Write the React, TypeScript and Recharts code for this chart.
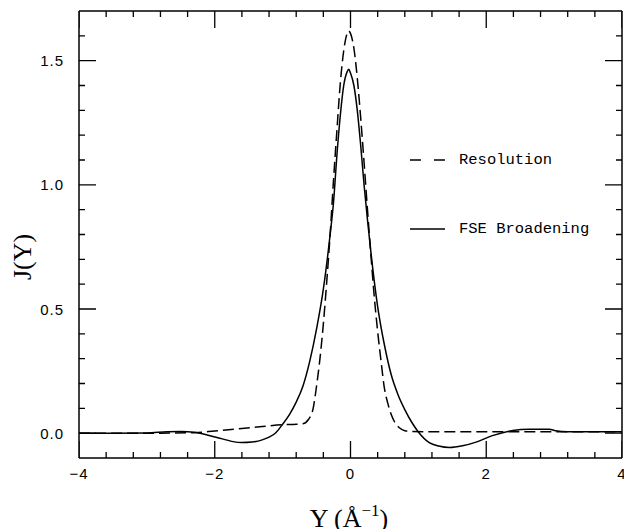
import React from 'react';
import { LineChart, Line, XAxis, YAxis, Legend, Customized, ReferenceLine } from 'recharts';

// Resolution function (dashed)
const resolutionY = [-4, -3, -2.3, -2, -1.6, -1.3, -1, -0.8, -0.7, -0.62, -0.55, -0.5, -0.45, -0.4, -0.35, -0.3, -0.25, -0.2, -0.15, -0.1, -0.05, -0.03, 0, 0.05, 0.1, 0.15, 0.2, 0.25, 0.3, 0.35, 0.4, 0.45, 0.5, 0.55, 0.6, 0.65, 0.72, 0.8, 0.9, 1.2, 2, 3, 4];
const resolutionJ = [0, 0, 0.002, 0.009, 0.019, 0.027, 0.034, 0.036, 0.038, 0.055, 0.1, 0.19, 0.3, 0.44, 0.61, 0.8, 1.02, 1.22, 1.41, 1.54, 1.61, 1.62, 1.61, 1.55, 1.43, 1.27, 1.09, 0.9, 0.72, 0.55, 0.41, 0.29, 0.18, 0.12, 0.075, 0.045, 0.022, 0.01, 0.007, 0.006, 0.006, 0.006, 0.006];

// Final-state-effect broadening (solid)
const fseY = [-4, -3.5, -3, -2.7, -2.5, -2.3, -2.1, -1.9, -1.75, -1.6, -1.45, -1.3, -1.2, -1.1, -1, -0.9, -0.8, -0.7, -0.6, -0.5, -0.4, -0.3, -0.25, -0.2, -0.15, -0.1, -0.05, -0.025, 0, 0.05, 0.1, 0.15, 0.2, 0.25, 0.3, 0.4, 0.5, 0.6, 0.7, 0.8, 0.9, 1, 1.16, 1.3, 1.46, 1.65, 1.85, 2.09, 2.39, 2.63, 2.93, 3.02, 3.2, 4];
const fseJ = [0, 0, 0.001, 0.006, 0.007, 0.004, -0.008, -0.022, -0.033, -0.038, -0.036, -0.027, -0.016, 0.002, 0.036, 0.075, 0.125, 0.19, 0.29, 0.42, 0.58, 0.8, 0.93, 1.12, 1.28, 1.4, 1.455, 1.465, 1.45, 1.4, 1.3, 1.16, 1.0, 0.86, 0.73, 0.51, 0.355, 0.235, 0.155, 0.095, 0.045, 0.005, -0.038, -0.052, -0.058, -0.051, -0.036, -0.01, 0.011, 0.016, 0.016, 0.01, 0.006, 0.006];

const xTicks = [-4, -3.6, -3.2, -2.8, -2.4, -2, -1.6, -1.2, -0.8, -0.4, 0, 0.4, 0.8, 1.2, 1.6, 2, 2.4, 2.8, 3.2, 3.6, 4];
const yTicks = [0, 0.1, 0.2, 0.3, 0.4, 0.5, 0.6, 0.7, 0.8, 0.9, 1, 1.1, 1.2, 1.3, 1.4, 1.5, 1.6];

const seriesNames = ['Resolution', 'FSE Broadening'];
const seriesDash = ['11 5', undefined];

const resolutionData = resolutionY.map((Y, i) => ({ Y, J: resolutionJ[i] }));
const fseData = fseY.map((Y, i) => ({ Y, J: fseJ[i] }));

const X_DOMAIN: [number, number] = [-4, 4];
const Y_DOMAIN: [number, number] = [-0.1, 1.7];

// chart geometry (the chart is pinned to the page's top-left corner)
const CHART_W = 624;
const CHART_H = 529;
const MARGIN = { top: 11, right: 2, bottom: 0, left: 0 };
const Y_AXIS_W = 79;
const X_AXIS_H = 71;
const PLOT_W = CHART_W - MARGIN.left - MARGIN.right - Y_AXIS_W;
const PLOT_H = CHART_H - MARGIN.top - MARGIN.bottom - X_AXIS_H;

// inward tick lengths in pixels, converted to data units
const MAJOR = 17;
const MINOR = 6;
const xPerPx = (X_DOMAIN[1] - X_DOMAIN[0]) / PLOT_W;
const yPerPx = (Y_DOMAIN[1] - Y_DOMAIN[0]) / PLOT_H;

const isMajor = (v: number, step: number) => Math.abs(v / step - Math.round(v / step)) < 1e-6;

// Each side of the frame gets one polyline of short tick segments, broken by null gaps.
type Pt = { Y: number; J: number | null };
const xTickSegments = (edge: number, dir: number): Pt[] =>
  xTicks.flatMap((v) => {
    const len = (isMajor(v, 2) ? MAJOR : MINOR) * yPerPx * dir;
    return [{ Y: v, J: edge }, { Y: v, J: edge + len }, { Y: v, J: null }];
  });
const yTickSegments = (edge: number, dir: number): Pt[] =>
  yTicks.flatMap((v) => {
    const len = (isMajor(v, 0.5) ? MAJOR : MINOR) * xPerPx * dir;
    return [{ Y: edge, J: v }, { Y: edge + len, J: v }, { Y: edge + len, J: null }];
  });
const tickSides = [
  xTickSegments(Y_DOMAIN[0], 1),
  xTickSegments(Y_DOMAIN[1], -1),
  yTickSegments(X_DOMAIN[0], 1),
  yTickSegments(X_DOMAIN[1], -1),
];

const TICK_FONT = '"Liberation Sans", Arial, sans-serif';
const fmtX = (v: number) => (v < 0 ? '\u2212' + Math.abs(v) : String(v));

const BottomLabel = (props: any) => {
  const { x, y, payload } = props;
  if (!isMajor(payload.value, 2)) return <g />;
  return (
    <text x={x} y={y + 15} textAnchor="middle" dominantBaseline="central" fontFamily={TICK_FONT} fontSize={15} letterSpacing={1} fill="#000">
      {fmtX(payload.value)}
    </text>
  );
};

const LeftLabel = (props: any) => {
  const { x, y, payload } = props;
  if (!isMajor(payload.value, 0.5)) return <g />;
  return (
    <text x={x - 15} y={y} textAnchor="end" dominantBaseline="central" fontFamily={TICK_FONT} fontSize={15} letterSpacing={1} fill="#000">
      {payload.value.toFixed(1)}
    </text>
  );
};

const AxisTitles = () => (
  <g fontFamily='"Liberation Serif", "Times New Roman", serif' fill="#000">
    <text x={22} y={257} transform="rotate(-90 22 257)" textAnchor="middle" dominantBaseline="central" fontSize={26}>
      J(Y)
    </text>
    <text x={349} y={527} textAnchor="middle" fontSize={26}>
      {'Y  (\u00C5'}
      <tspan dy={-11} fontSize={17}>{'\u22121'}</tspan>
      <tspan dy={11}>)</tspan>
    </text>
  </g>
);

const LegendBox = () => (
  <svg width={215} height={120} style={{ display: 'block' }}>
    {seriesNames.map((name, i) => {
      const cy = i === 0 ? 22 : 91;
      return (
        <g key={name}>
          <line x1={2} x2={37} y1={cy} y2={cy} stroke="#000" strokeWidth={1.4} strokeDasharray={seriesDash[i] ? '11 13' : undefined} />
          <text x={51} y={cy} dominantBaseline="central" fontFamily='"Liberation Mono", "Courier New", monospace' fontSize={15.5} fill="#000">
            {name}
          </text>
        </g>
      );
    })}
  </svg>
);

export default function App() {
  return (
    <div style={{ position: 'absolute', left: 0, top: 0, width: CHART_W, height: CHART_H, overflow: 'hidden', background: '#fff' }}>
      <LineChart width={CHART_W} height={CHART_H} margin={MARGIN}>
        <XAxis
          xAxisId="b"
          dataKey="Y"
          type="number"
          domain={X_DOMAIN}
          ticks={xTicks}
          interval={0}
          allowDataOverflow
          height={X_AXIS_H}
          tickSize={0}
          tickMargin={0}
          tickLine={false}
          tick={<BottomLabel />}
          axisLine={{ stroke: '#000', strokeWidth: 1.5 }}
        />
        <YAxis
          yAxisId="l"
          type="number"
          domain={Y_DOMAIN}
          ticks={yTicks}
          interval={0}
          allowDataOverflow
          width={Y_AXIS_W}
          tickSize={0}
          tickMargin={0}
          tickLine={false}
          tick={<LeftLabel />}
          axisLine={{ stroke: '#000', strokeWidth: 1.5 }}
        />
        {/* top and right edges of the frame */}
        <ReferenceLine xAxisId="b" yAxisId="l" y={Y_DOMAIN[1]} ifOverflow="visible" stroke="#000" strokeWidth={1.5} />
        <ReferenceLine xAxisId="b" yAxisId="l" x={X_DOMAIN[1]} ifOverflow="visible" stroke="#000" strokeWidth={1.5} />
        {tickSides.map((pts, i) => (
          <Line
            key={`ticks${i}`}
            data={pts}
            dataKey="J"
            xAxisId="b"
            yAxisId="l"
            type="linear"
            stroke="#000"
            strokeWidth={1.3}
            connectNulls={false}
            dot={false}
            activeDot={false}
            legendType="none"
            isAnimationActive={false}
          />
        ))}
        <Line
          data={resolutionData}
          dataKey="J"
          name={seriesNames[0]}
          xAxisId="b"
          yAxisId="l"
          type="monotone"
          stroke="#000"
          strokeWidth={1.5}
          strokeDasharray={seriesDash[0]}
          dot={false}
          activeDot={false}
          isAnimationActive={false}
        />
        <Line
          data={fseData}
          dataKey="J"
          name={seriesNames[1]}
          xAxisId="b"
          yAxisId="l"
          type="monotone"
          stroke="#000"
          strokeWidth={1.5}
          strokeDasharray={seriesDash[1]}
          dot={false}
          activeDot={false}
          isAnimationActive={false}
        />
        <Legend
          layout="vertical"
          align="center"
          verticalAlign="middle"
          wrapperStyle={{ left: 408, top: 138, width: 215, height: 120 }}
          content={() => <LegendBox />}
        />
        <Customized component={AxisTitles} />
      </LineChart>
    </div>
  );
}
